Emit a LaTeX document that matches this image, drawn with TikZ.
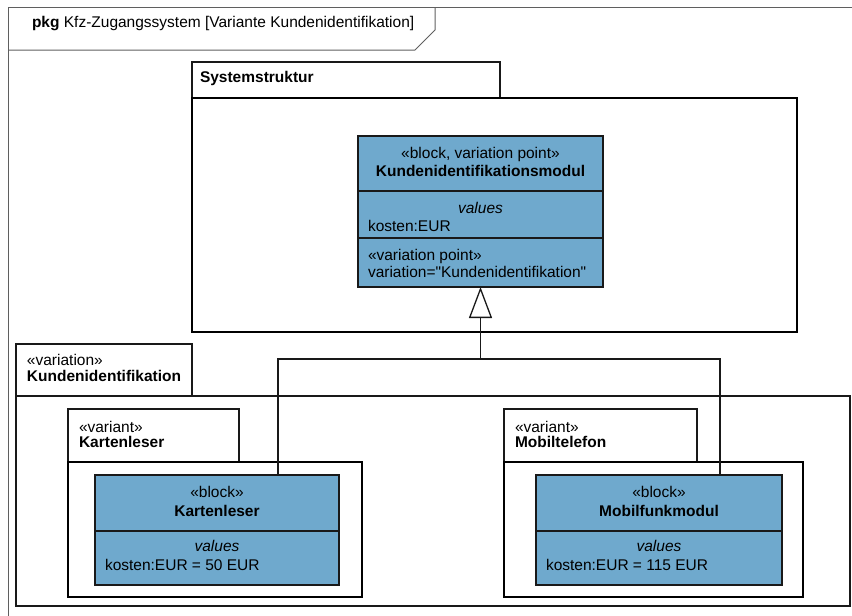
\documentclass[tikz,border=0pt]{standalone}
\usepackage{fontspec}
\setmainfont{Liberation Sans}
\usetikzlibrary{arrows.meta}
\definecolor{blockfill}{RGB}{111,169,205}
\definecolor{framegray}{RGB}{95,95,95}
\begin{document}
\begin{tikzpicture}[x=1pt,y=-1pt,
  every node/.style={inner sep=0pt, outer sep=0pt, font=\fontsize{15.5}{18}\selectfont},
  pkgtab/.style={draw=black!90, line width=1.3pt, rectangle, anchor=north west},
  pkgbodythin/.style={draw=black!90, line width=1.3pt, rectangle, anchor=north west},
  pkgbodythick/.style={draw=black, line width=2.3pt, rectangle, anchor=north west},
  blockbox/.style={draw=black!90, line width=1.3pt, fill=blockfill, rectangle, anchor=north west},
  divider/.style={draw=black!90, line width=1.3pt},
  lbl/.style={anchor=base west},
  ctr/.style={anchor=base},
  conn/.style={draw=black!90, line width=1.3pt},
  gen/.style={conn, -{Triangle[open,length=31pt,width=23pt,line width=1.3pt]}}
]
\useasboundingbox (0,0) rectangle (852,616);

% outer frame
\draw[framegray, line width=1pt] (8,7) rectangle (870,640);
\draw[framegray, line width=1pt] (8,50) -- (415,50) -- (435,30) -- (435,7);
\node[lbl] (title) at (32,27) {\textbf{pkg} Kfz-Zugangssystem [Variante Kundenidentifikation]};

% Systemstruktur package
\node[pkgtab, minimum width=308pt, minimum height=36pt] (systab) at (192,62) {};
\node[pkgbodythick, minimum width=605pt, minimum height=234pt] (sysbody) at (192,98) {};
\node[lbl] (systxt) at (200,82) {\textbf{Systemstruktur}};

% Variation package
\node[pkgtab, minimum width=176pt, minimum height=52pt] (vartab) at (16,344) {};
\node[pkgbodythin, minimum width=834pt, minimum height=210pt] (varbody) at (16,396) {};
\node[lbl] (varst) at (27,365) {«variation»};
\node[lbl] (varname) at (27,381) {\textbf{Kundenidentifikation}};

% Variant Kartenleser
\node[pkgtab, minimum width=171pt, minimum height=53pt] (kltab) at (68,409) {};
\node[pkgbodythick, minimum width=294pt, minimum height=135pt] (klbody) at (68,462) {};
\node[lbl] (klst) at (79,432) {«variant»};
\node[lbl] (klname) at (79,447) {\textbf{Kartenleser}};

% Variant Mobiltelefon
\node[pkgtab, minimum width=193pt, minimum height=53pt] (mttab) at (504,409) {};
\node[pkgbodythick, minimum width=299pt, minimum height=135pt] (mtbody) at (504,462) {};
\node[lbl] (mtst) at (515,432) {«variant»};
\node[lbl] (mtname) at (515,447) {\textbf{Mobiltelefon}};

% Main block
\node[blockbox, minimum width=245pt, minimum height=151pt] (main) at (358,136) {};
\draw[divider] (358,191) -- (603,191);
\draw[divider] (358,238) -- (603,238);
\node[ctr] (mainst) at (480.5,158) {«block, variation point»};
\node[ctr] (mainname) at (480.5,176) {\textbf{Kundenidentifikationsmodul}};
\node[ctr] (mainval) at (480.5,213) {\textit{values}};
\node[lbl] (maink) at (368,231) {kosten:EUR};
\node[lbl] (mainvp) at (368,260) {«variation point»};
\node[lbl] (mainvar) at (368,277) {variation=\textquotedbl Kundenidentifikation\textquotedbl};

% Block Kartenleser
\node[blockbox, minimum width=244pt, minimum height=110pt] (kl) at (95,475) {};
\draw[divider] (95,531) -- (339,531);
\node[ctr] (klbst) at (217,497) {«block»};
\node[ctr] (klbname) at (217,516) {\textbf{Kartenleser}};
\node[ctr] (klval) at (217,551) {\textit{values}};
\node[lbl] (klk) at (105,570) {kosten:EUR = 50 EUR};

% Block Mobilfunkmodul
\node[blockbox, minimum width=246pt, minimum height=110pt] (mf) at (536,475) {};
\draw[divider] (536,531) -- (782,531);
\node[ctr] (mfbst) at (659,497) {«block»};
\node[ctr] (mfbname) at (659,516) {\textbf{Mobilfunkmodul}};
\node[ctr] (mfval) at (659,551) {\textit{values}};
\node[lbl] (mfk) at (546,570) {kosten:EUR = 115 EUR};

% Generalization connectors
\coordinate (jl) at (278,359);
\coordinate (j) at (480.5,359);
\coordinate (jr) at (720,359);
\draw[conn] (kl.north -| jl) -- (jl) -- (jr) -- (mf.north -| jr);
\draw[gen] (j) -- (main.south);
\end{tikzpicture}
\end{document}
